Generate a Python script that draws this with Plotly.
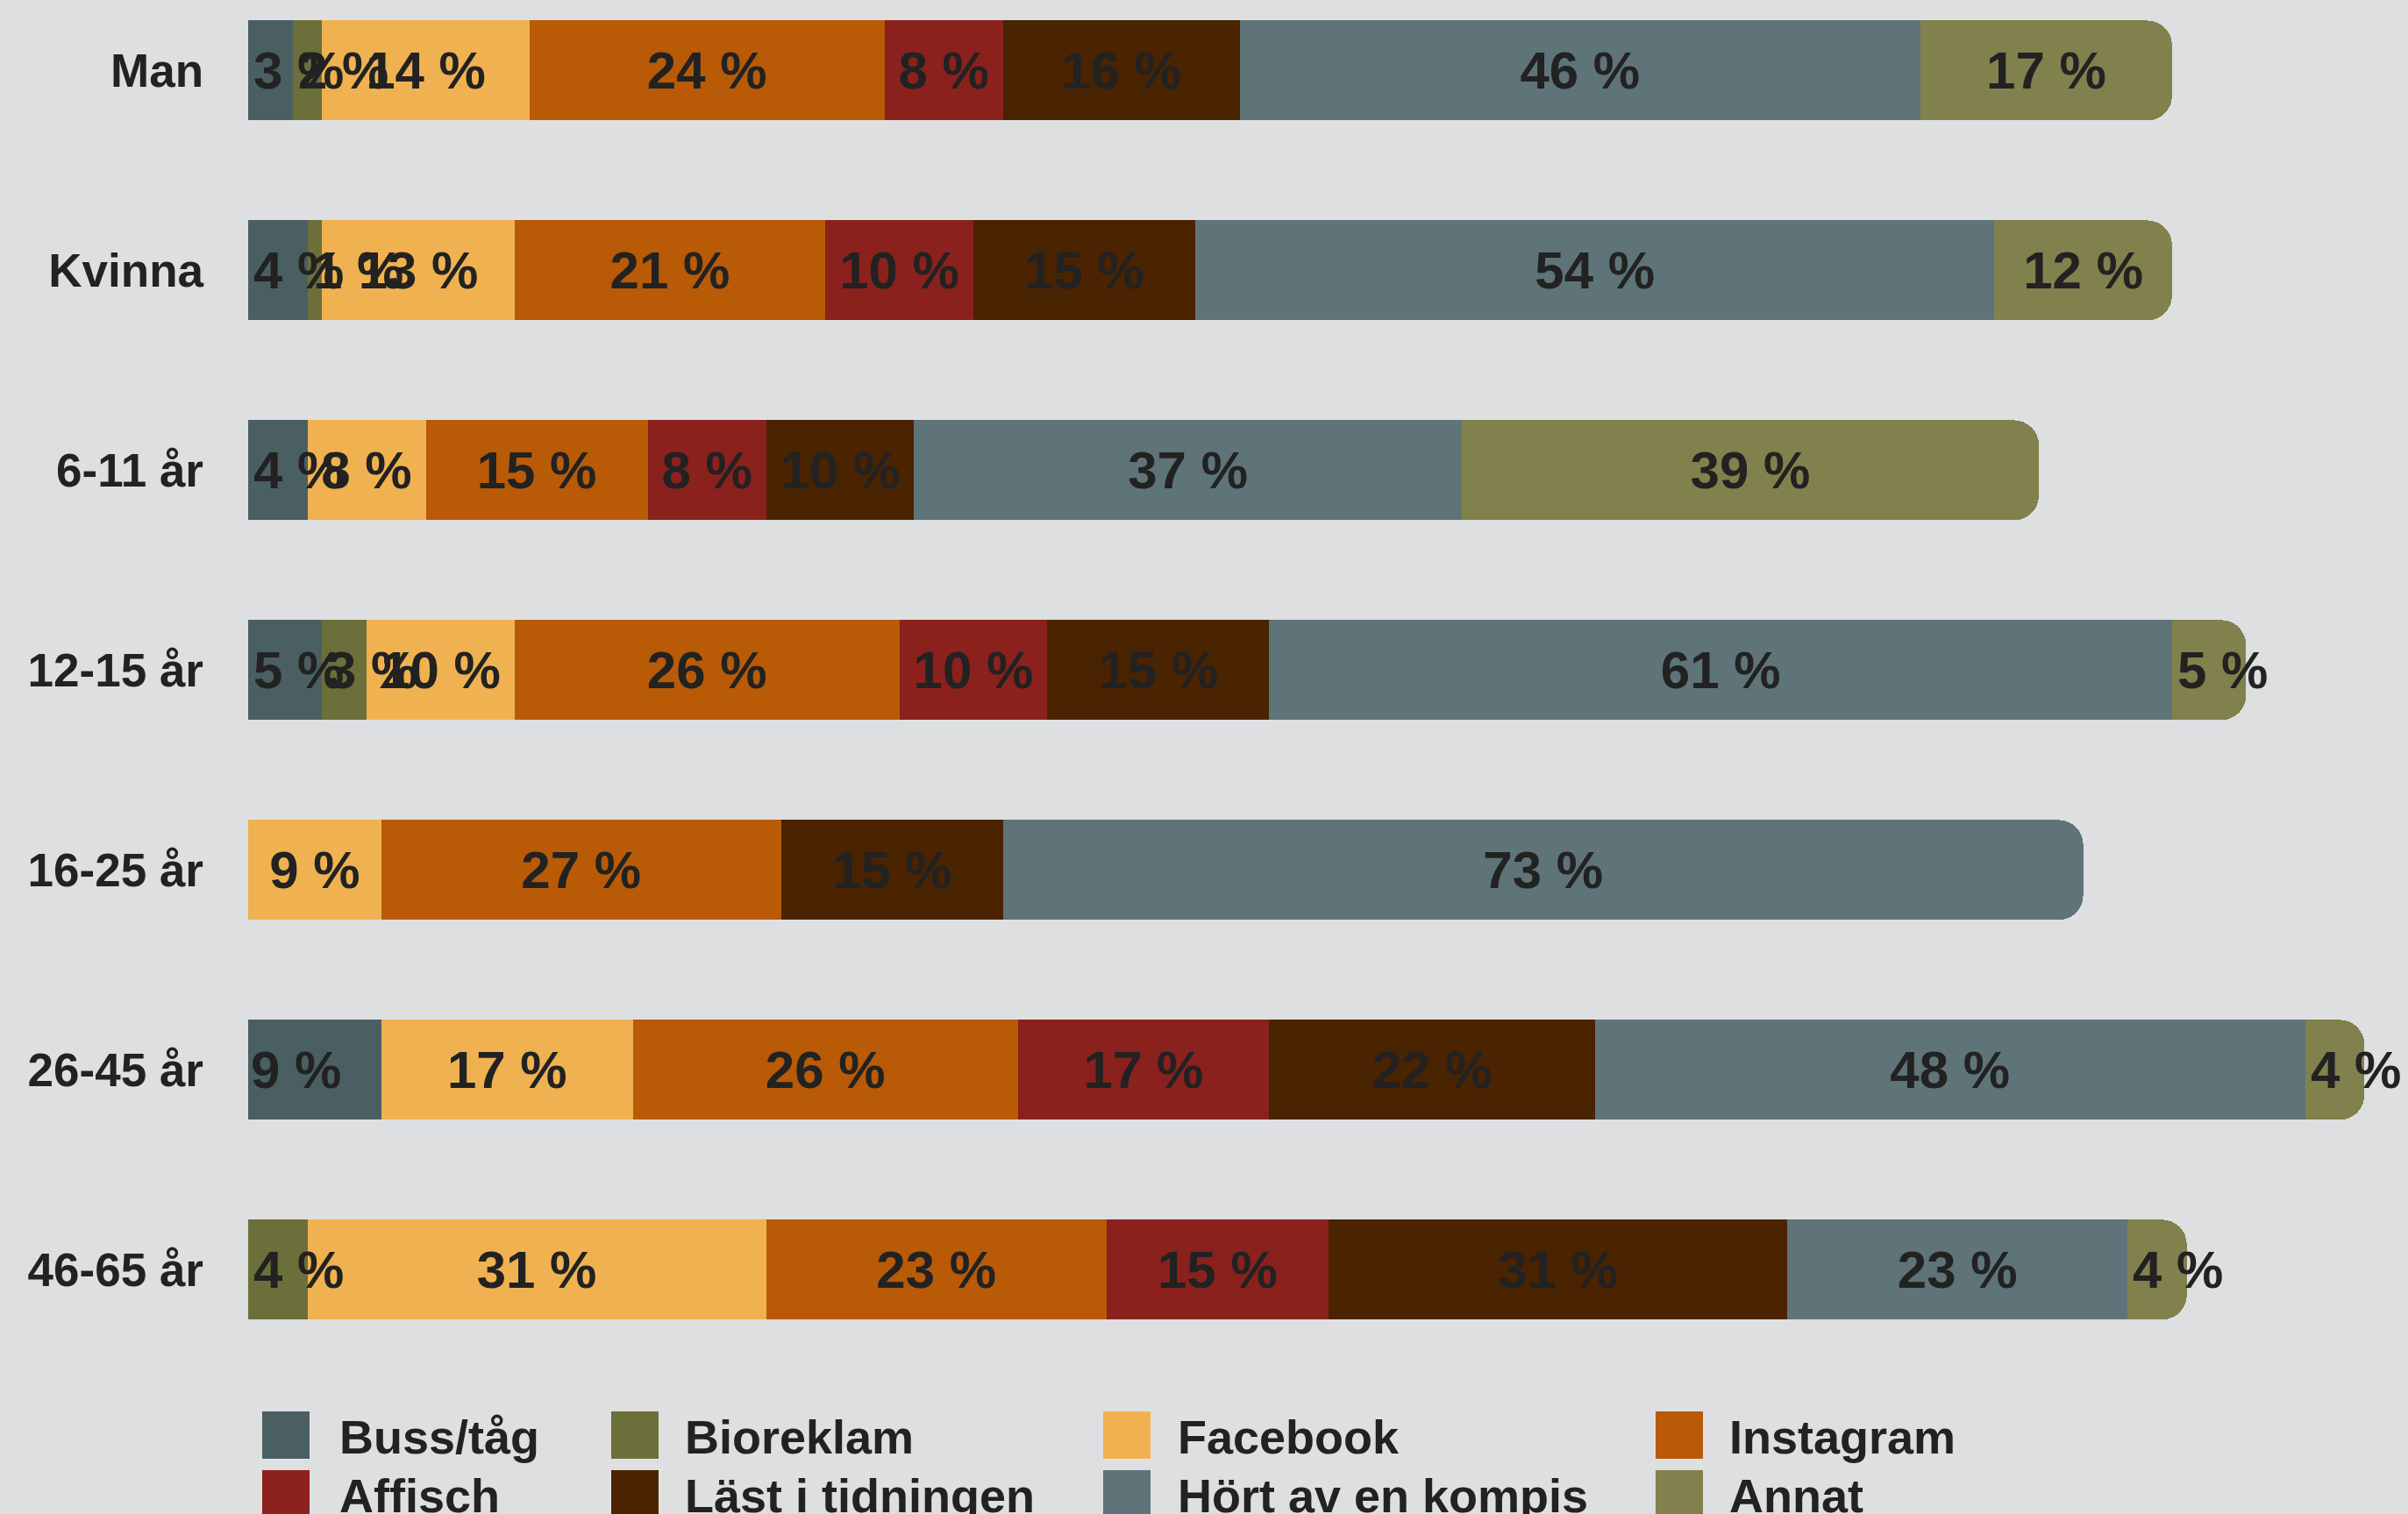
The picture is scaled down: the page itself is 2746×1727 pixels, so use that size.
import plotly.graph_objects as go

categories = ["Man", "Kvinna", "6-11 år", "12-15 år", "16-25 år", "26-45 år", "46-65 år"]
series_names = ["Buss/tåg", "Bioreklam", "Facebook", "Instagram",
                "Affisch", "Läst i tidningen", "Hört av en kompis", "Annat"]
buss_tag = [3, 4, 4, 5, 0, 9, 0]
bioreklam = [2, 1, 0, 3, 0, 0, 4]
facebook = [14, 13, 8, 10, 9, 17, 31]
instagram = [24, 21, 15, 26, 27, 26, 23]
affisch = [8, 10, 8, 10, 0, 17, 15]
last_i_tidningen = [16, 15, 10, 15, 15, 22, 31]
hort_av_kompis = [46, 54, 37, 61, 73, 48, 23]
annat = [17, 12, 39, 5, 0, 4, 4]

series_values = [buss_tag, bioreklam, facebook, instagram,
                 affisch, last_i_tidningen, hort_av_kompis, annat]
colors = ["#4a5f62", "#6b6f3a", "#f0b250", "#b95a07",
          "#8a211d", "#4a2300", "#5e7478", "#80814c"]
anchors = ["start", "middle", "middle", "middle", "middle", "middle", "middle", "middle"]

W, H = 2746, 1727
ML, MR, MT, MB = 283, 0, 0, 167
PW, PH = W - ML - MR, H - MT - MB
PX_PER_UNIT = 16.876
FONT = "Liberation Sans, Arial, Helvetica, sans-serif"
TXT = "#222222"
LBL_SIZE = 60
PAD = 4


def text_width(s, size):
    w = 0.0
    for ch in s:
        if ch.isdigit():
            w += 0.556
        elif ch == " ":
            w += 0.278
        elif ch == "%":
            w += 0.889
        else:
            w += 0.6
    return w * size


fig = go.Figure()
annotations = []
bases = [0] * len(categories)
for name, vals, col, anc in zip(series_names, series_values, colors, anchors):
    xs = [v if v else None for v in vals]
    txt = []
    for cat, v, b in zip(categories, vals, bases):
        if not v:
            txt.append("")
            continue
        label = f"{v} %"
        if v * PX_PER_UNIT >= text_width(label, LBL_SIZE) + 2 * PAD:
            txt.append(label)
        else:
            txt.append("")
            annotations.append(dict(xref="x", yref="y", x=b, y=cat, xanchor="left",
                                    yanchor="middle", xshift=PAD, showarrow=False,
                                    text=label,
                                    font=dict(family=FONT, size=LBL_SIZE, color=TXT, weight=700)))
    bases = [b + v for b, v in zip(bases, vals)]
    fig.add_trace(go.Bar(
        y=categories, x=xs, name=name, orientation="h",
        marker=dict(color=col, line=dict(width=0)),
        text=txt, textposition="inside", insidetextanchor=anc,
        textangle=0, constraintext="none",
        textfont=dict(family=FONT, size=LBL_SIZE, color=TXT, weight=700),
        showlegend=False, hoverinfo="skip",
    ))


# manual legend (big square swatches)
def px2x(px):
    return (px - ML) / PW


def py2y(py):
    return (MT + PH - py) / PH


marker_x = [299, 697, 1258, 1888]
text_x = [385, 779, 1341, 1970]
row_cy = [1637, 1704]
sw = 54
shapes = []
for i, (name, col) in enumerate(zip(series_names, colors)):
    c, r = i % 4, i // 4
    x0 = marker_x[c]
    cy = row_cy[r]
    shapes.append(dict(type="rect", xref="paper", yref="paper",
                       x0=px2x(x0), x1=px2x(x0 + sw),
                       y0=py2y(cy - sw / 2), y1=py2y(cy + sw / 2),
                       fillcolor=col, line=dict(width=0), layer="above"))
    annotations.append(dict(xref="paper", yref="paper", x=px2x(text_x[c]), y=py2y(cy + 2),
                            xanchor="left", yanchor="middle", text=name, showarrow=False,
                            font=dict(family=FONT, size=54, color=TXT, weight=700)))

fig.update_layout(
    width=W, height=H,
    margin=dict(l=ML, r=MR, t=MT, b=MB, pad=0),
    paper_bgcolor="#dedfe1", plot_bgcolor="#dedfe1",
    barmode="stack", bargap=0.5, barcornerradius=28,
    uniformtext=dict(mode="show", minsize=LBL_SIZE),
    shapes=shapes, annotations=annotations,
    xaxis=dict(range=[0, PW / PX_PER_UNIT], visible=False, showgrid=False, zeroline=False),
    yaxis=dict(type="category", categoryorder="array", categoryarray=categories,
               range=[6.49, -0.353], showgrid=False, zeroline=False, showline=False,
               ticks="", ticklabelstandoff=50,
               tickfont=dict(family=FONT, size=53, color=TXT, weight=700)),
    font=dict(family=FONT, color=TXT),
)

fig.write_html("out.html", config={"displayModeBar": False},
               post_script="document.body.style.margin='0px';document.body.style.overflow='hidden';")
